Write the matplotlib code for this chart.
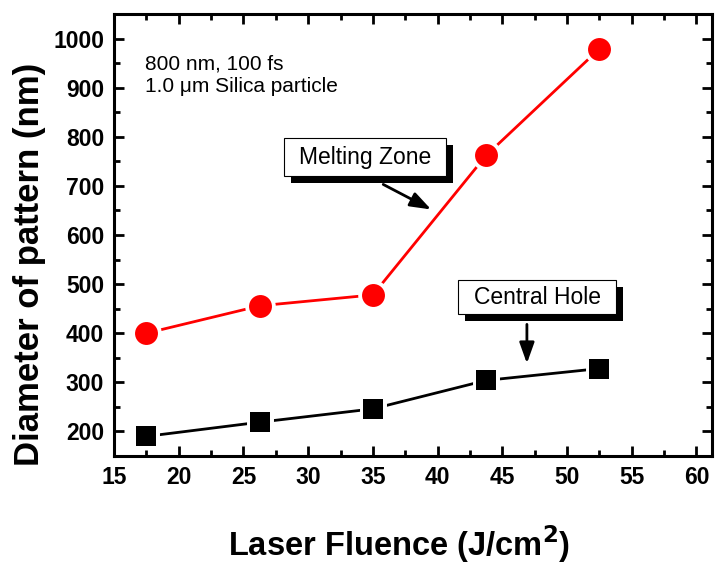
import numpy as np
import matplotlib.pyplot as plt
from matplotlib.patches import Rectangle

plt.rcParams['font.family'] = ['Liberation Sans', 'DejaVu Sans']

# data
fluence = [17.5, 26.3, 35.0, 43.75, 52.5]
melting_zone = [400, 456, 478, 762, 979]
central_hole = [190, 219, 246, 304, 328]

x_ticks = [15, 20, 25, 30, 35, 40, 45, 50, 55, 60]
y_ticks = [200, 300, 400, 500, 600, 700, 800, 900, 1000]


def shadow_box(ax, x0, y0, x1, y1, text):
    # white box with a solid black drop shadow (Origin style)
    dx, dy = 0.54, -14.3
    ax.add_patch(Rectangle((x0 + dx, y0 + dy), x1 - x0, y1 - y0,
                           fc='black', ec='black', lw=0, zorder=5))
    ax.add_patch(Rectangle((x0, y0), x1 - x0, y1 - y0,
                           fc='white', ec='black', lw=0.8, zorder=6))
    ax.text((x0 + x1) / 2, (y0 + y1) / 2, text, fontsize=16.5,
            ha='center', va='center', zorder=7)


def main():
    fig = plt.figure(figsize=(7.15, 5.68), dpi=100)
    ax = fig.add_axes([114/715, 1 - 456/568, 598/715, 442/568])

    # lines first, then markers with a white rim to leave the Origin-style gap
    ax.plot(fluence, melting_zone, color='red', lw=2, zorder=2)
    ax.plot(fluence, melting_zone, 'o', color='red', ms=17, mec='white', mew=5, zorder=3)
    ax.plot(fluence, melting_zone, 'o', color='red', ms=16.5, mec='red', mew=0, zorder=4)

    ax.plot(fluence, central_hole, color='black', lw=2, zorder=2)
    ax.plot(fluence, central_hole, 's', color='black', ms=15, mec='white', mew=5, zorder=3)
    ax.plot(fluence, central_hole, 's', color='black', ms=14.5, mec='black', mew=0, zorder=4)

    ax.set_xlim(15, 61.2)
    ax.set_ylim(150, 1050)
    ax.set_xticks(x_ticks)
    ax.set_yticks(y_ticks)
    ax.set_xticks(np.arange(17.5, 61, 5), minor=True)
    ax.set_yticks(np.arange(150, 1050, 100), minor=True)

    for s in ax.spines.values():
        s.set_linewidth(2.2)
    ax.tick_params(which='both', direction='in', top=True, right=True, width=2,
                   labelsize=16.5, pad=7)
    ax.tick_params(which='major', length=7)
    ax.tick_params(which='minor', length=4)
    for lab in ax.get_xticklabels() + ax.get_yticklabels():
        lab.set_fontweight('bold')

    ax.text(17.4, 937, '800 nm, 100 fs', fontsize=15)
    ax.text(17.4, 892, '1.0 \u03bcm Silica particle', fontsize=15)

    shadow_box(ax, 28.14, 719.3, 40.66, 796.7, 'Melting Zone')
    ax.annotate('', xy=(39.5, 652), xytext=(35.8, 703),
                arrowprops=dict(arrowstyle='-|>,head_length=0.7,head_width=0.25',
                                color='black', lw=2, mutation_scale=18, shrinkA=0, shrinkB=0))

    shadow_box(ax, 41.58, 438.3, 53.79, 507.5, 'Central Hole')
    ax.annotate('', xy=(46.9, 338.5), xytext=(46.9, 418),
                arrowprops=dict(arrowstyle='-|>,head_length=0.7,head_width=0.25',
                                color='black', lw=2, mutation_scale=18, shrinkA=0, shrinkB=0))

    fig.text(30/715, 1 - 264/568, 'Diameter of pattern (nm)', rotation=90,
             ha='center', va='center', fontsize=25, fontweight='bold')
    fig.text(399/715, 1 - 556/568, 'Laser Fluence (J/cm$^\\mathbf{2}$)',
             ha='center', va='baseline', fontsize=23.5, fontweight='bold')

    fig.savefig('out.png', dpi=100)


if __name__ == '__main__':
    main()
